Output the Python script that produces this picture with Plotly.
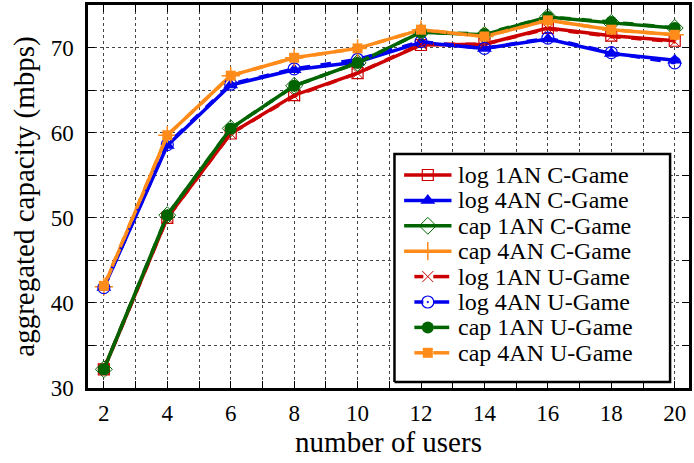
import plotly.graph_objects as go

# Number of users on the x axis
users = [2, 4, 6, 8, 10, 12, 14, 16, 18, 20]

# Aggregated capacity (mbps), C-Game
log_1an_c = [32.2, 50.0, 59.9, 64.4, 67.0, 70.3, 70.4, 72.3, 71.4, 70.8]
log_4an_c = [41.8, 58.5, 65.6, 67.4, 68.3, 70.6, 69.9, 71.0, 69.3, 68.5]
cap_1an_c = [32.2, 50.3, 60.5, 65.5, 68.2, 71.8, 71.5, 73.6, 72.9, 72.3]
cap_4an_c = [41.9, 59.7, 66.7, 68.8, 69.9, 72.1, 71.3, 73.2, 72.1, 71.5]

# Aggregated capacity (mbps), U-Game
log_1an_u = [32.2, 50.0, 59.9, 64.3, 67.0, 70.4, 70.4, 72.2, 71.3, 70.7]
log_4an_u = [41.8, 58.6, 65.7, 67.5, 68.6, 70.7, 69.9, 71.1, 69.4, 68.2]
cap_1an_u = [32.2, 50.3, 60.5, 65.5, 68.2, 71.8, 71.6, 73.6, 73.0, 72.3]
cap_4an_u = [42.0, 59.7, 66.7, 68.8, 69.9, 72.1, 71.3, 73.2, 72.1, 71.5]

x_ticks = list(range(2, 21))
x_labels = [str(v) if v % 2 == 0 else "" for v in x_ticks]
y_ticks = list(range(30, 76, 5))
y_labels = [str(v) if v % 10 == 0 else "" for v in y_ticks]

RED = "#cc0000"
BLUE = "#0000ee"
GREEN = "#006400"
ORANGE = "#ff8c1a"
FONT = "Liberation Serif"

series = [
    ("log 1AN C-Game", log_1an_c, RED, "solid", dict(symbol="square-open", size=11, line=dict(width=1.2))),
    ("log 4AN C-Game", log_4an_c, BLUE, "solid", dict(symbol="triangle-up", size=13, line=dict(width=0))),
    ("cap 1AN C-Game", cap_1an_c, GREEN, "solid", dict(symbol="diamond-open", size=13, line=dict(width=1))),
    ("cap 4AN C-Game", cap_4an_c, ORANGE, "solid", dict(symbol="cross-thin-open", size=13, line=dict(width=1.5))),
    ("log 1AN U-Game", log_1an_u, RED, "dash", dict(symbol="x-thin-open", size=11, line=dict(width=1))),
    ("log 4AN U-Game", log_4an_u, BLUE, "dash", dict(symbol="circle-open-dot", size=12, line=dict(width=1.2))),
    ("cap 1AN U-Game", cap_1an_u, GREEN, "dash", dict(symbol="circle", size=12, line=dict(width=0))),
    ("cap 4AN U-Game", cap_4an_u, ORANGE, "dash", dict(symbol="square", size=10, line=dict(width=0))),
]

# Plot-area geometry in pixels, used to place the key box
FIG_W, FIG_H = 694, 463
M_L, M_R, M_T, M_B = 88, 2, 5, 75
PLOT_W = FIG_W - M_L - M_R
PLOT_H = FIG_H - M_T - M_B


def px_x(px):
    return (px - M_L) / PLOT_W


def px_y(py):
    return (FIG_H - M_B - py) / PLOT_H


# Key box layout (pixels)
KEY_BOX = dict(x0=396, x1=673, y0=154, y1=382)
KEY_ROW0, KEY_ROW_STEP = 175, 25.4
KEY_SOLID = (405.7, 453.3)
KEY_DASHED = ((416, 425), (435, 451))
KEY_MARK_X = 429.5
KEY_TEXT_X = 457.5

fig = go.Figure()
for name, vals, color, dash, marker in series:
    marker = dict(marker, color=color)
    marker["line"] = dict(marker["line"], color=color)
    fig.add_trace(go.Scatter(
        x=users, y=vals, name=name, mode="lines+markers",
        line=dict(color=color, width=3.5, dash=dash),
        marker=marker, showlegend=False,
    ))

# Key box: white panel with black frame, drawn above the grid
bx0, bx1 = px_x(KEY_BOX["x0"]), px_x(KEY_BOX["x1"])
by0, by1 = px_y(KEY_BOX["y1"]), px_y(KEY_BOX["y0"])
fig.add_trace(go.Scatter(
    x=[bx0, bx1, bx1, bx0, bx0], y=[by0, by0, by1, by1, by0],
    xaxis="x2", yaxis="y2", mode="lines", fill="toself", fillcolor="white",
    line=dict(color="black", width=2.5), showlegend=False, hoverinfo="skip",
))

annotations = []
for i, (name, vals, color, dash, marker) in enumerate(series):
    row_y = px_y(KEY_ROW0 + KEY_ROW_STEP * i)
    if dash == "solid":
        kx = [px_x(KEY_SOLID[0]), px_x(KEY_SOLID[1])]
        ky = [row_y, row_y]
    else:
        (a0, a1), (b0, b1) = KEY_DASHED
        kx = [px_x(a0), px_x(a1), None, px_x(b0), px_x(b1)]
        ky = [row_y, row_y, None, row_y, row_y]
    fig.add_trace(go.Scatter(
        x=kx, y=ky, xaxis="x2", yaxis="y2", mode="lines",
        line=dict(color=color, width=3.5), showlegend=False, hoverinfo="skip",
    ))
    km = dict(marker, color=color)
    km["line"] = dict(km["line"], color=color)
    fig.add_trace(go.Scatter(
        x=[px_x(KEY_MARK_X)], y=[row_y], xaxis="x2", yaxis="y2", mode="markers",
        marker=km, showlegend=False, hoverinfo="skip",
    ))
    annotations.append(dict(
        text=name, xref="paper", yref="paper", x=px_x(KEY_TEXT_X), y=row_y,
        xanchor="left", yanchor="middle", showarrow=False,
        font=dict(family=FONT, size=24, color="black"),
    ))

axis_common = dict(
    showline=True, linecolor="black", linewidth=2.5, mirror="allticks",
    ticks="inside", ticklen=7, tickwidth=1.2, tickcolor="black",
    showgrid=True, gridcolor="#444444", gridwidth=1, griddash="3px,3px",
    zeroline=False,
    tickfont=dict(family=FONT, size=23, color="black"),
)

fig.update_layout(
    width=FIG_W, height=FIG_H,
    margin=dict(l=M_L, r=M_R, t=M_T, b=M_B),
    paper_bgcolor="white", plot_bgcolor="white",
    font=dict(family=FONT, color="black"),
    showlegend=False,
    annotations=annotations,
    xaxis=dict(
        axis_common, range=[1.5, 20.45], tickvals=x_ticks, ticktext=x_labels,
        ticklabelstandoff=3,
        title=dict(text="number of users", font=dict(family=FONT, size=29), standoff=2),
    ),
    yaxis=dict(
        axis_common, range=[30, 75], tickvals=y_ticks, ticktext=y_labels,
        ticklabelstandoff=7,
        title=dict(text="aggregated capacity (mbps)", font=dict(family=FONT, size=29), standoff=8),
    ),
    xaxis2=dict(overlaying="x", range=[0, 1], visible=False, fixedrange=True),
    yaxis2=dict(overlaying="y", range=[0, 1], visible=False, fixedrange=True),
)

fig.write_html("out.html")
